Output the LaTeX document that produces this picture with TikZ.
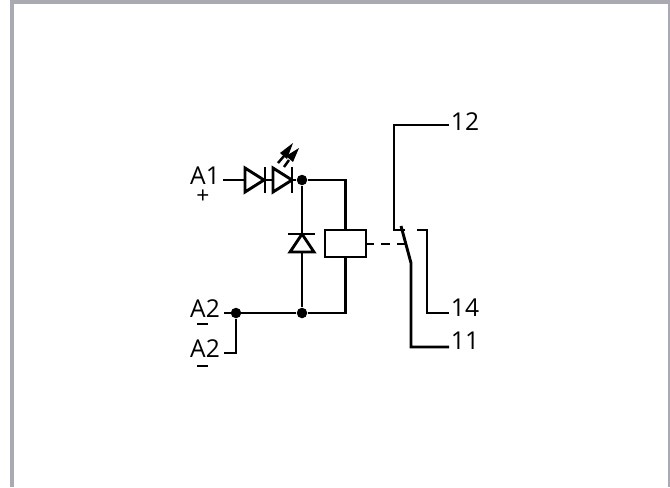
\documentclass[tikz,border=0pt]{standalone}
\usepackage{fontspec}
\setmainfont{Open Sans}
\definecolor{framegray}{RGB}{170,170,178}
\tikzset{
    wire/.style={line width=0.029cm},
    dot/.style={circle,fill=black,inner sep=0pt,minimum size=0.105cm},
    lbl/.style={inner sep=0pt,font=\fontsize{7}{9}\selectfont},
    sign/.style={inner sep=0pt,font=\fontsize{6.5}{8}\selectfont},
}
\begin{document}
\begin{tikzpicture}[x=0.01cm,y=-0.01cm]
    \useasboundingbox (0,0) rectangle (670,487);
    \fill[white] (0,0) rectangle (670,487);
    % frame
    \fill[framegray] (10,0) rectangle (670,4);
    \fill[framegray] (10,0) rectangle (14,487);
    \fill[framegray] (668,0) rectangle (670,487);
    % labels
    \node[lbl] (aone) at (205,176) {A1};
    \node[sign] (plus) at (203,197) {+};
    \node[lbl] (atwo) at (205,308.5) {A2};
    \node[lbl] (atwob) at (205,349) {A2};
    \node[lbl] (twelve) at (465,121.5) {12};
    \node[lbl] (fourteen) at (465,308) {14};
    \node[lbl] (eleven) at (465,341) {11};
    \draw[line width=0.025cm] (197,324) -- (208,324);
    \draw[line width=0.025cm] (197,366) -- (208,366);
    % junctions
    \node[dot] (jled) at (302,180) {};
    \node[dot] (jbot) at (302,313) {};
    \node[dot] (jatwo) at (236,313) {};
    \coordinate (aonew) at (223,180);
    \coordinate (atwow) at (224,313);
    \coordinate (atwobw) at (224,353);
    % coil
    \node[draw,wire,minimum width=0.41cm,minimum height=0.27cm,inner sep=0pt] (coil) at (345.5,243.5) {};
    % input wires
    \draw[wire] (aonew) -- (jled);
    \draw[wire] (jled) -| (coil.north);
    \draw[wire] (jled) -- (jbot);
    \draw[wire] (atwow) -- (jbot);
    \draw[wire] (jbot) -| (coil.south);
    \draw[wire] (atwobw) -| (jatwo);
    % diodes
    \draw[wire,fill=white] (245,168) -- (264,180) -- (245,192) -- cycle;
    \draw[wire] (265,167) -- (265,193);
    \draw[wire,fill=white] (273,168) -- (292,180) -- (273,192) -- cycle;
    \draw[wire] (292,167) -- (292,193);
    \draw[wire,fill=white] (302,234) -- (314,252) -- (290,252) -- cycle;
    \draw[wire] (288,234) -- (315,234);
    % light marks
    \draw[line width=0.025cm] (278,163) -- (284,156);
    \fill (293,143) -- (280,153) -- (287,159) -- cycle;
    \draw[line width=0.025cm] (284,167) -- (289,160);
    \fill (299,148) -- (286,156) -- (293,162) -- cycle;
    % contact
    \coordinate (cnc) at (405,230);
    \coordinate (cno) at (417,230);
    \coordinate (bladetop) at (401,226);
    \coordinate (bladeend) at (411,263);
    \coordinate (wtwelve) at (449,125);
    \coordinate (wfourteen) at (449,313);
    \coordinate (weleven) at (449,347);
    \draw[wire] (wtwelve) -| (394,230) -- (cnc);
    \draw[wire] (cno) -| (427,313) -- (wfourteen);
    \draw[wire] (bladetop) -- (bladeend) -- (411,347) -- (weleven);
    \draw[wire,dash pattern=on 0.09cm off 0.07cm,dash phase=0.02cm] (coil.east) ++(0,0.5) -- (406,244);
\end{tikzpicture}
\end{document}
